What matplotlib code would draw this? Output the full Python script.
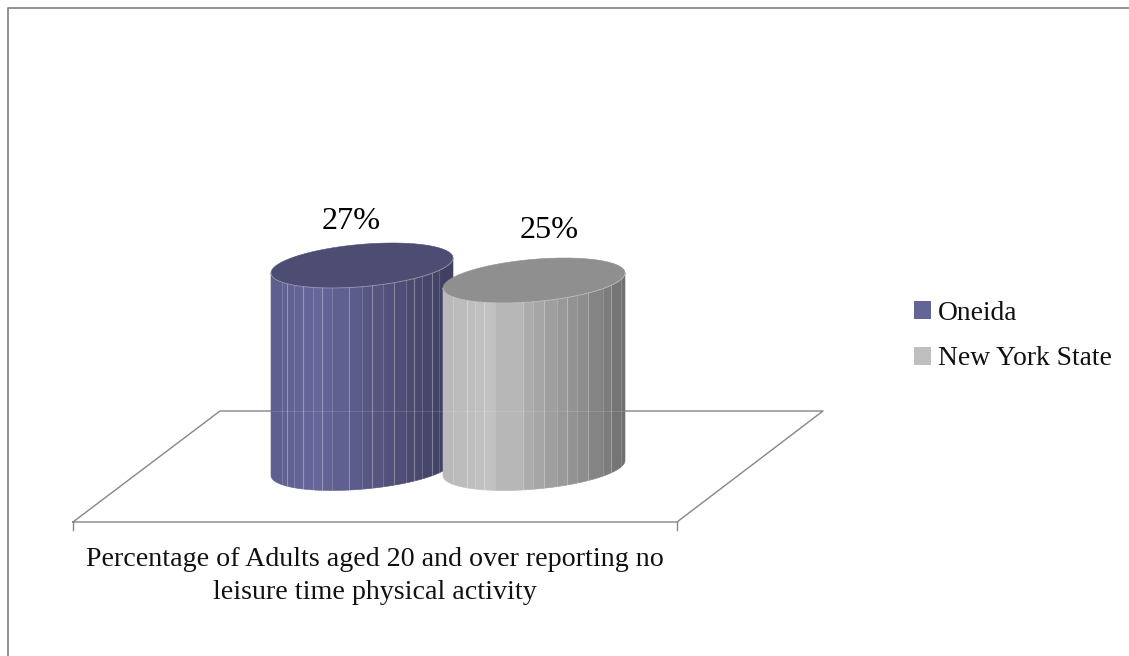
import numpy as np
import matplotlib
matplotlib.use("Agg")
import matplotlib.pyplot as plt
from matplotlib.colors import LinearSegmentedColormap
from matplotlib.patches import Patch

plt.rcParams["font.family"] = ["Liberation Serif", "DejaVu Serif"]

category = "Percentage of Adults aged 20 and over reporting no\nleisure time physical activity"
series = ["Oneida", "New York State"]
values = [27, 25]
value_labels = ["27%", "25%"]

W, H = 1129, 656
BASE_PX = 468      # pixel row of the zero level
PX_PER_UNIT = 7.5  # pixels per percentage point
HALF_W, HALF_H = 91, 22.5
SKEW = np.radians(19.5)
LINE = "#868686"

left_edges = [271, 443]
swatches = ["#646496", "#bfbfbf"]
top_colors = ["#4d4d73", "#8f8f8f"]
side_ramps = [
    ["#5d5d8e", "#66669a", "#595986", "#4c4c73", "#3e3e5f"],
    ["#b8b8b8", "#c2c2c2", "#a9a9a9", "#8f8f8f", "#6f6f6f"],
]
seams = [
    [11, 16, 23, 32, 42, 51, 61, 78, 91, 101, 112, 123, 135, 143, 151, 161, 168],
    [10, 24, 32, 41, 52, 80, 90, 101, 114, 124, 134, 145, 160, 168, 178],
]
label_x = [351, 549]
label_gap = [5.9, 6.6]


def to_value(px):
    return (BASE_PX - px) / PX_PER_UNIT


def rim(cx, level, t):
    # skewed ellipse, so the rim tips up towards the right
    x = cx + HALF_W * np.cos(t)
    y = level + HALF_H * np.sin(t + SKEW) / PX_PER_UNIT
    return x, y


def seam_angle(s):
    return -np.arccos(s / HALF_W - 1)


def draw_cylinder(ax, left, value, ramp, top_color, seam_list, z):
    cx = left + HALF_W
    cmap = LinearSegmentedColormap.from_list("side", ramp)
    width = 2 * HALF_W

    # one flat colour per facet of the side wall
    edges = [0] + seam_list + [width]
    for s0, s1 in zip(edges[:-1], edges[1:]):
        tt = np.linspace(seam_angle(s0), seam_angle(s1), 12)
        xb, yb = rim(cx, 0, tt)
        xt, yt = rim(cx, value, tt)
        color = cmap((s0 + s1) / 2 / width)
        ax.fill(np.r_[xb, xt[::-1]], np.r_[yb, yt[::-1]], color=color, lw=0.4, zorder=z)

    # lighter facet edges, every other one a bit stronger
    for n, s in enumerate(seam_list):
        tt = seam_angle(s)
        xb, yb = rim(cx, 0, tt)
        xt, yt = rim(cx, value, tt)
        ax.plot([xb, xt], [yb, yt], color="white", lw=0.8, alpha=0.32 if n % 2 else 0.18, zorder=z + 0.1)

    # faint back edge of the floor showing through the wall
    ax.plot([left, left + width], [to_value(411)] * 2, color="white", lw=0.8, alpha=0.12, zorder=z + 0.1)

    t = np.linspace(0, 2 * np.pi, 240)
    xt, yt = rim(cx, value, t)
    ax.fill(xt, yt, color=top_color, lw=0.4, zorder=z + 0.2)
    t = np.linspace(-np.pi, 0, 120)
    xt, yt = rim(cx, value, t)
    ax.plot(xt, yt, color="white", lw=0.6, alpha=0.4, zorder=z + 0.3)


fig = plt.figure(figsize=(W / 100, H / 100), dpi=100)
ax = fig.add_axes([0, 0, 1, 1])
ax.set_xlim(0, W)
ax.set_ylim(to_value(H), to_value(0))
ax.axis("off")

# chart area border, only the top and left sides fall inside the canvas
ax.plot([8, 8, W], [to_value(H), to_value(8), to_value(8)], color="#808080", lw=1.2, zorder=1)

# floor plane
floor_x = [73, 220, 823, 677, 73]
floor_y = [522, 411, 411, 522, 522]
ax.plot(floor_x, [to_value(p) for p in floor_y], color=LINE, lw=1.0, zorder=2)
for tick_x in (73, 677):
    ax.plot([tick_x, tick_x], [to_value(522), to_value(530)], color=LINE, lw=1.0, zorder=2)

for i in range(len(values)):
    draw_cylinder(ax, left_edges[i], values[i], side_ramps[i], top_colors[i], seams[i], 3 + i)
    ax.text(label_x[i], values[i] + label_gap[i], value_labels[i], fontsize=23.2,
            ha="center", va="center", color="black", zorder=8)

ax.text(375, to_value(576), category, fontsize=20.2, ha="center", va="center",
        multialignment="center", linespacing=1.4, color="#111111", zorder=8)

handles = [Patch(facecolor=c, edgecolor="none") for c in swatches]
ax.legend(handles, series, loc="upper left", bbox_to_anchor=(892 / W, 1 - 279 / H),
          frameon=False, fontsize=19.8, handlelength=0.62, handleheight=0.62,
          handletextpad=0.25, labelspacing=0.74, borderpad=0.3, labelcolor="#111111")

fig.savefig("out.png", dpi=100)
